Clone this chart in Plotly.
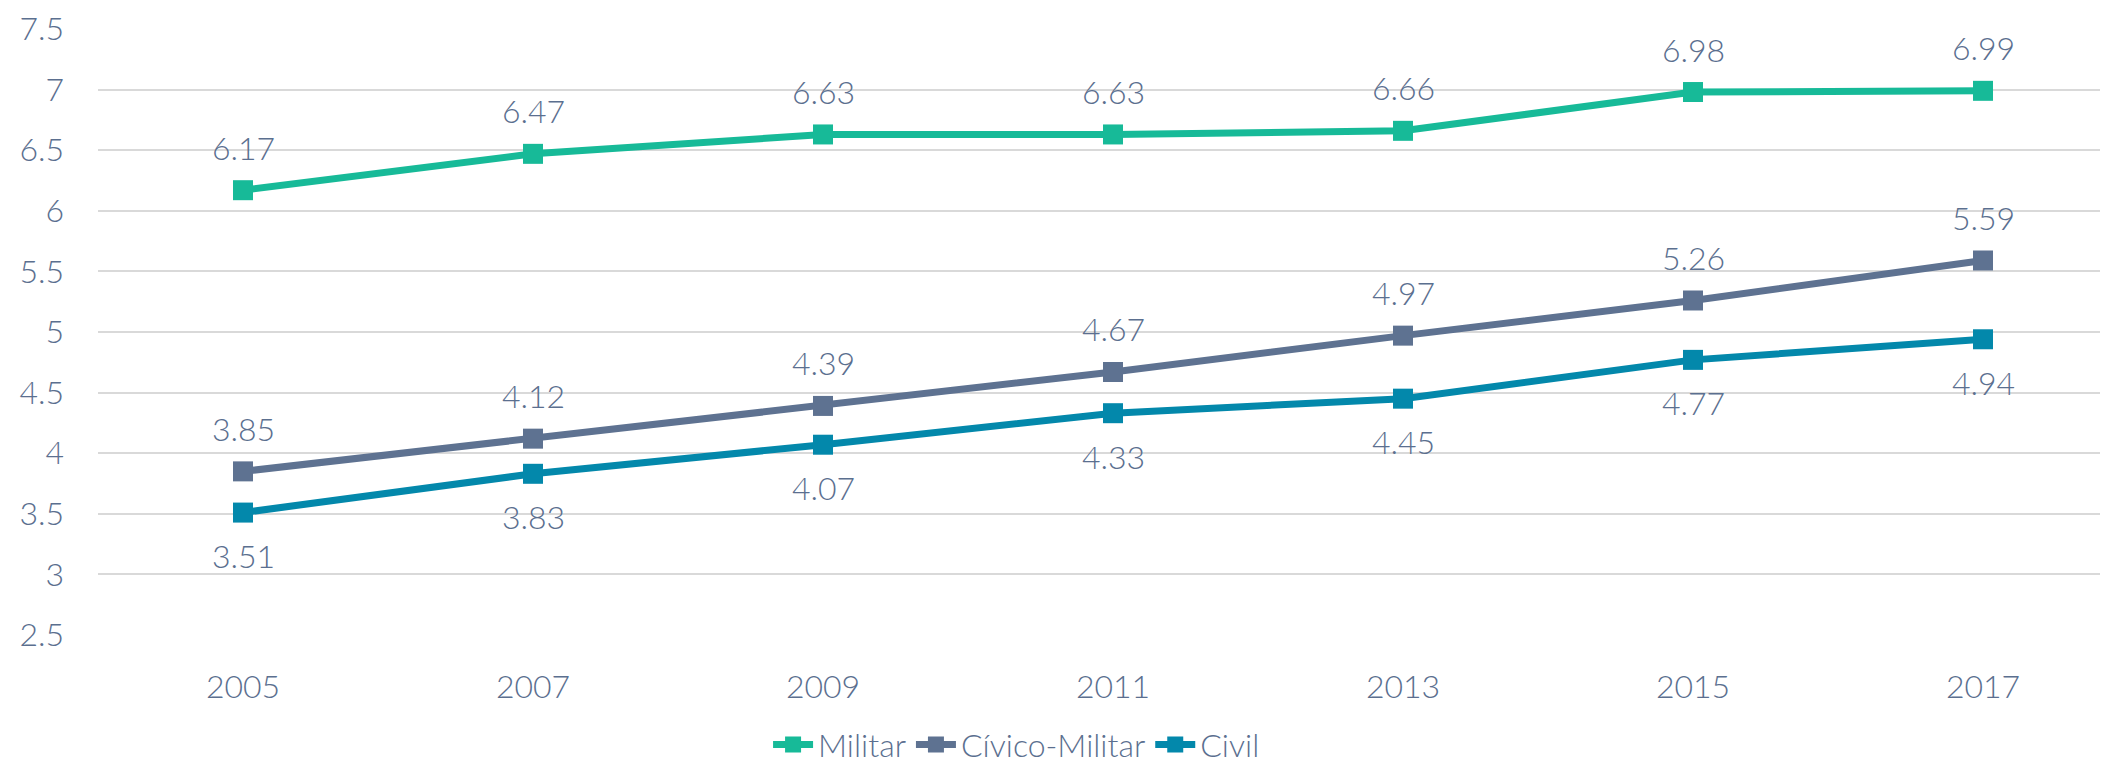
import plotly.graph_objects as go

years = [2005, 2007, 2009, 2011, 2013, 2015, 2017]
militar = [6.17, 6.47, 6.63, 6.63, 6.66, 6.98, 6.99]
civico_militar = [3.85, 4.12, 4.39, 4.67, 4.97, 5.26, 5.59]
civil = [3.51, 3.83, 4.07, 4.33, 4.45, 4.77, 4.94]
y_ticks = [2.5, 3, 3.5, 4, 4.5, 5, 5.5, 6, 6.5, 7, 7.5]

# name, values, colour, label side (+1 above, -1 below)
series = [
    ("Militar", militar, "#17BA98", 1),
    ("Cívico-Militar", civico_militar, "#5E7291", 1),
    ("Civil", civil, "#0388AB", -1),
]

text_color = "#5B6F8F"
font = dict(family="Lato", size=32, color=text_color, weight=300)

fig = go.Figure()
annotations = []
for name, vals, color, side in series:
    fig.add_trace(go.Scatter(
        x=years, y=vals, name=name, mode="lines+markers",
        line=dict(color=color, width=7),
        marker=dict(symbol="square", size=20, color=color),
        cliponaxis=False,
    ))
    for x, v in zip(years, vals):
        annotations.append(dict(
            x=x, y=v, xref="x", yref="y", text=f"{v:.2f}", showarrow=False,
            yshift=43 * side, font=font, xanchor="center", yanchor="middle",
        ))

fig.update_layout(
    width=2100, height=759,
    margin=dict(l=90, r=0, t=21, b=132, autoexpand=False),
    plot_bgcolor="white", paper_bgcolor="white",
    font=font,
    showlegend=True,
    annotations=annotations,
    legend=dict(orientation="h", x=0.457, xanchor="center", y=-0.181, yanchor="middle",
                font=font, itemwidth=40, traceorder="normal",
                tracegroupgap=0),
    xaxis=dict(range=[2004, 2017.862], tickvals=years, ticktext=[str(y) for y in years],
               showgrid=False, zeroline=False, showline=False, ticks="",
               ticklabelstandoff=30, fixedrange=True),
    yaxis=dict(range=[2.4999, 7.5001], tickmode="array", tickvals=y_ticks,
               ticktext=[f"{t:g}" for t in y_ticks],
               showgrid=True, gridcolor="#D9D9D9",
               gridwidth=2, zeroline=False, showline=False, ticks="",
               ticklabelstandoff=33),
)

fig.write_html("out.html")
